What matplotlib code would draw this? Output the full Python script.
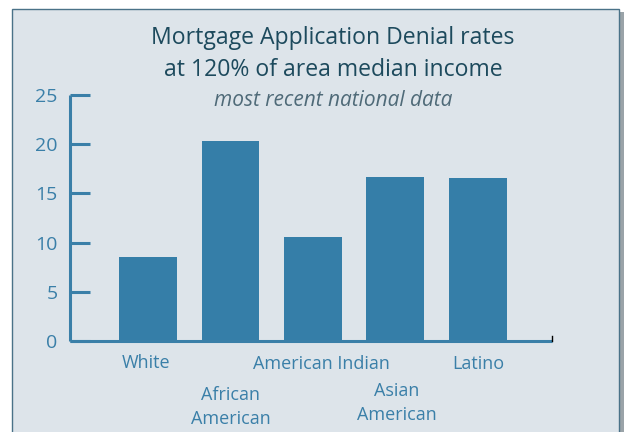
import matplotlib
matplotlib.use("Agg")
import matplotlib.pyplot as plt
from matplotlib.patches import Rectangle
from matplotlib.transforms import blended_transform_factory

categories = ["White", "African\nAmerican", "American Indian", "Asian\nAmerican", "Latino"]
values = [8.5, 20.3, 10.6, 16.7, 16.6]
label_y = [363, 407, 364, 403, 364]  # label centre y in pixels
label_dx = [-0.02, 0.0, 0.10, 0.02, 0.01]  # small label offsets (category units)
yticks = [0, 5, 10, 15, 20, 25]

W, H = 624, 432
fig = plt.figure(figsize=(W / 100, H / 100), dpi=100)
fig.patch.set_facecolor("white")

panel_bg = "#dde4ea"
blue = "#357ea8"
axis_c = "#3a7fa8"
title_c = "#1d4a5d"
font = "Open Sans"

# shadow and panel
fig.patches.append(Rectangle((15 / W, -0.1), 609 / W, (H - 12) / H + 0.1,
                             transform=fig.transFigure, facecolor="#9aa3a8",
                             edgecolor="none", zorder=0))
fig.patches.append(Rectangle((12 / W, -0.1), 607 / W, (H - 9) / H + 0.1,
                             transform=fig.transFigure, facecolor=panel_bg,
                             edgecolor="#4a7288", linewidth=1.0, zorder=1))

ax_l, ax_r, ax_t, ax_b = 70, 552, 95, 341
ax = fig.add_axes([ax_l / W, (H - ax_b) / H, (ax_r - ax_l) / W, (ax_b - ax_t) / H])
ax.set_facecolor("none")
ax.set_zorder(2)

x = list(range(len(categories)))
ax.bar(x, values, width=0.70, color=blue, zorder=2)
ax.set_xlim(-0.945, 4.9)
ax.set_ylim(0, 25)

for s in ["top", "right"]:
    ax.spines[s].set_visible(False)
for s in ["left", "bottom"]:
    ax.spines[s].set_color(axis_c)
    ax.spines[s].set_linewidth(2.2)
    ax.spines[s].set_capstyle("butt")

ax.set_yticks(yticks)
ax.set_yticklabels([str(t) for t in yticks])
ax.tick_params(axis="y", direction="in", length=14.5, width=2.2, color=axis_c,
               labelcolor=axis_c, labelsize=14, pad=9)
for lab in ax.get_yticklabels():
    lab.set_fontfamily(font)
ax.set_xticks([])

# small black end tick
ax.plot([1, 1], [0, 0.02], transform=ax.transAxes, color="black", lw=1.0,
        clip_on=False, zorder=3)

tr = blended_transform_factory(ax.transData, fig.transFigure)
for xi, lab, ly, dx in zip(x, categories, label_y, label_dx):
    ax.text(xi + dx, 1 - ly / H, lab, transform=tr,
            ha="center", va="center", fontsize=13, color=axis_c, family=font,
            linespacing=1.38)

fig.text(333 / W, 1 - 38 / H, "Mortgage Application Denial rates", ha="center",
         va="center", fontsize=16.6, color=title_c, family=font)
fig.text(333 / W, 1 - 70 / H, "at 120% of area median income", ha="center",
         va="center", fontsize=16.6, color=title_c, family=font)
fig.text(333 / W, 1 - 100 / H, "most recent national data", ha="center",
         va="center", fontsize=15, color="#4f6a78", style="italic", family=font)

fig.savefig("out.png", dpi=100)
